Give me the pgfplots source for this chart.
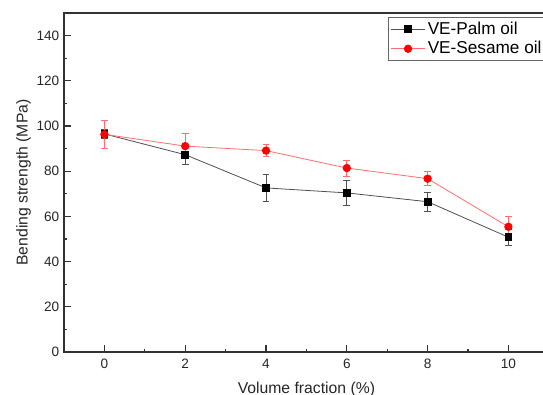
\documentclass[border=0pt]{standalone}
\usepackage{pgfplots}
\pgfplotsset{compat=1.18}
\usepackage{fontspec}
\setmainfont{Liberation Sans}
\definecolor{palmline}{RGB}{80,80,80}
\definecolor{sesline}{RGB}{255,110,110}
\definecolor{axcol}{RGB}{50,50,50}
\begin{document}
\begin{tikzpicture}
\path[use as bounding box, clip] (-48pt,-32.25pt) rectangle (359.25pt,264pt);
\begin{axis}[
  at={(0,0)}, anchor=south west,
  scale only axis,
  width=363.6pt, height=254.25pt,
  xmin=-1, xmax=11, ymin=0, ymax=150,
  xtick={0,2,4,6,8,10}, ytick={0,20,...,140},
  minor x tick num=1, minor y tick num=1,
  xtick pos=bottom, ytick pos=left,
  tick align=inside,
  major tick length=5pt, minor tick length=2.5pt,
  every tick/.style={axcol, line width=0.8pt},
  axis line style={axcol, line width=0.9pt},
  /pgf/number format/assume math mode=true,
  tick label style={font=\fontsize{10.2}{12}\selectfont, text=black!85},
  xticklabel style={yshift=-2pt},
  label style={font=\fontsize{11.8}{14}\selectfont, text=black!85},
  xlabel={Volume fraction (\%)},
  ylabel={Bending strength (MPa)},
  xlabel style={yshift=-3pt},
  ylabel style={yshift=-2.5pt},
  legend style={at={(0.668,0.988)}, anchor=north west, draw=black!60, line width=0.6pt,
    font=\fontsize{12.9}{15}\selectfont, row sep=0pt, inner ysep=1.2pt, inner xsep=2pt,
    /tikz/every even column/.append style={column sep=2pt}},
  legend cell align=left,
  legend image code/.code={%
    \draw[mark repeat=2,mark phase=2] plot coordinates {(0cm,0cm) (0.44cm,0cm) (0.88cm,0cm)};},
]
\addplot[color=palmline, line width=0.6pt, mark=square*, mark size=2.6pt,
  mark options={fill=black, draw=black, solid},
  error bars/.cd, y dir=both, y explicit,
  error bar style={color=palmline, line width=0.6pt},
  error mark options={rotate=90, mark size=2.6pt, color=palmline, line width=0.6pt}]
  coordinates {
  (0,96.5) +- (0,2)
  (2,87.3) +- (0,4.3)
  (4,72.6) +- (0,6)
  (6,70.4) +- (0,5.6)
  (8,66.5) +- (0,4.2)
  (10,50.8) +- (0,3.6)
  };
\addlegendentry{VE-Palm oil}
\addplot[color=sesline, line width=0.6pt, mark=*, mark size=2.8pt,
  mark options={fill=red, draw=red, solid},
  error bars/.cd, y dir=both, y explicit,
  error bar style={color=sesline, line width=0.6pt},
  error mark options={rotate=90, mark size=2.6pt, color=sesline, line width=0.6pt}]
  coordinates {
  (0,96.3) +- (0,6)
  (2,91.1) +- (0,5.5)
  (4,89.1) +- (0,2.6)
  (6,81.4) +- (0,3.5)
  (8,76.7) +- (0,3)
  (10,55.4) +- (0,4.5)
  };
\addlegendentry{VE-Sesame oil}
\end{axis}
\end{tikzpicture}
\end{document}
